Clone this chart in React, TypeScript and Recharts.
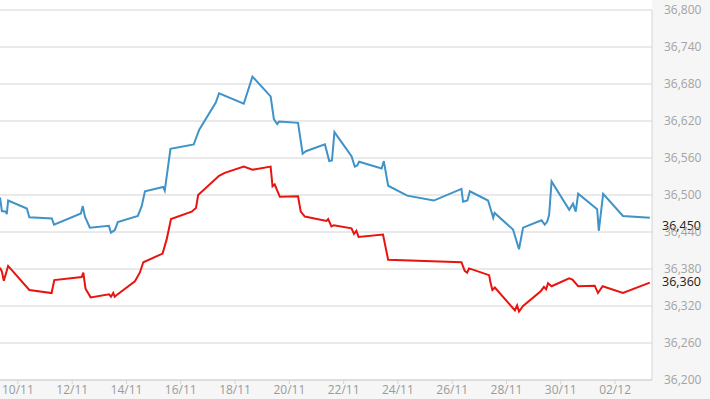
import React from 'react';
import { LineChart, Line, XAxis, YAxis, CartesianGrid, ReferenceLine } from 'recharts';

// t = day of month counted from 1 Nov (32 = 02/12), v = price
const blueT = [9.34, 9.41, 9.56, 9.59, 9.64, 10.33, 10.42, 11.25, 11.33, 12.32, 12.39, 12.47, 12.65, 13.35, 13.43, 13.57, 13.68, 14.42, 14.56, 14.68, 15.35, 15.41, 15.62, 16.48, 16.56, 16.68, 17.29, 17.41, 18.32, 18.64, 19.31, 19.43, 19.55, 19.62, 20.32, 20.49, 20.61, 21.31, 21.47, 21.57, 21.66, 22.29, 22.41, 22.5, 22.57, 23.4, 23.48, 23.64, 24.34, 25.32, 26.34, 26.4, 26.56, 26.65, 27.32, 27.45, 27.51, 27.56, 28.24, 28.46, 28.61, 29.29, 29.41, 29.5, 29.57, 29.66, 30.31, 30.45, 30.55, 30.64, 31.34, 31.4, 31.56, 32.29, 33.28];
const blueV = [36496, 36474, 36473, 36469, 36491, 36478, 36464, 36462, 36452, 36470, 36482, 36465, 36447, 36450, 36439, 36443, 36456, 36466, 36482, 36506, 36513, 36507, 36575, 36582, 36592, 36606, 36650, 36665, 36648, 36692, 36660, 36623, 36615, 36619, 36617, 36567, 36571, 36582, 36555, 36556, 36602, 36563, 36546, 36548, 36554, 36543, 36555, 36515, 36499, 36491, 36510, 36489, 36491, 36506, 36491, 36472, 36463, 36471, 36444, 36412, 36447, 36459, 36452, 36457, 36468, 36522, 36476, 36486, 36473, 36502, 36477, 36442, 36502, 36466, 36463];

const redT = [9.34, 9.41, 9.48, 9.64, 10.42, 11.24, 11.34, 12.35, 12.41, 12.49, 12.68, 13.36, 13.43, 13.51, 13.57, 13.64, 14.31, 14.49, 14.62, 15.33, 15.48, 15.64, 16.4, 16.56, 16.64, 17.41, 17.62, 18.32, 18.64, 19.31, 19.38, 19.46, 19.65, 20.32, 20.42, 20.57, 21.37, 21.43, 21.55, 21.64, 22.29, 22.38, 22.47, 22.55, 23.45, 23.64, 26.34, 26.46, 26.55, 26.62, 27.36, 27.41, 27.48, 27.57, 28.31, 28.39, 28.46, 28.61, 29.26, 29.38, 29.46, 29.53, 29.66, 30.31, 30.43, 30.64, 31.25, 31.37, 31.54, 32.29, 33.28];
const redV = [36382, 36376, 36361, 36385, 36346, 36341, 36362, 36367, 36374, 36348, 36334, 36339, 36335, 36341, 36335, 36338, 36360, 36374, 36391, 36405, 36428, 36461, 36473, 36479, 36500, 36531, 36536, 36546, 36541, 36546, 36514, 36517, 36497, 36498, 36473, 36465, 36458, 36461, 36449, 36451, 36446, 36437, 36442, 36432, 36436, 36395, 36391, 36377, 36374, 36381, 36370, 36358, 36346, 36350, 36313, 36321, 36311, 36320, 36344, 36351, 36347, 36357, 36352, 36365, 36363, 36352, 36353, 36341, 36352, 36341, 36358];

const xTicks = [10, 12, 14, 16, 18, 20, 22, 24, 26, 28, 30, 32];
const yTicks = [36200, 36260, 36320, 36380, 36440, 36500, 36560, 36620, 36680, 36740, 36800];
const lastLabels = [
  { value: 36450, text: '36,450' },
  { value: 36360, text: '36,360' },
];

const blue = blueT.map((t, i) => ({ t, v: blueV[i] }));
const red = redT.map((t, i) => ({ t, v: redV[i] }));

const FONT = '"Open Sans", Arial, sans-serif';

const fmtDate = (d: number) => (d > 30 ? `0${d - 30}/12` : `${d}/11`);
const fmtNum = (v: number) => v.toLocaleString('en-US');

const LastLabel = ({ viewBox, text }: any) => (
  <text
    x={viewBox.x + viewBox.width + 10}
    y={viewBox.y}
    dy="0.35em"
    fill="#1a1a1a"
    fontSize={12.5}
    fontFamily={FONT}
  >
    {text}
  </text>
);

export default function App() {
  return (
    <div style={{ position: 'relative', width: 710, height: 399, background: '#f6f6f6' }}>
      <style>{'body{margin:0}'}</style>
      <div style={{ position: 'absolute', left: 0, top: 0, width: 652, height: 380, background: '#fff' }} />
      <div style={{ position: 'absolute', left: 0, top: 0 }}>
        <LineChart width={710} height={399} margin={{ top: 10, right: 0, bottom: 0, left: 0 }}>
          <CartesianGrid vertical={false} stroke="#d4d4d4" />
          <XAxis
            type="number"
            dataKey="t"
            domain={[9.34, 33.36]}
            ticks={xTicks}
            tickFormatter={fmtDate}
            allowDataOverflow
            height={19}
            axisLine={{ stroke: '#d4d4d4' }}
            tickLine={{ stroke: '#d4d4d4' }}
            tickSize={4}
            tickMargin={1}
            tick={{ fill: '#9a9a9a', fontSize: 12, fontFamily: FONT }}
          />
          <YAxis
            orientation="right"
            domain={[36200, 36800]}
            ticks={yTicks}
            tickFormatter={fmtNum}
            width={58}
            axisLine={{ stroke: '#d4d4d4' }}
            tickLine={false}
            tickSize={0}
            tickMargin={12}
            tick={{ fill: '#a3a3a3', fontSize: 12, fontFamily: FONT }}
          />
          {lastLabels.map((l) => (
            <ReferenceLine
              key={l.text}
              y={l.value}
              stroke="none"
              label={<LastLabel text={l.text} />}
            />
          ))}
          <Line
            data={blue}
            dataKey="v"
            stroke="#3f93c8"
            strokeWidth={2}
            dot={false}
            activeDot={false}
            isAnimationActive={false}
          />
          <Line
            data={red}
            dataKey="v"
            stroke="#e8140f"
            strokeWidth={2}
            dot={false}
            activeDot={false}
            isAnimationActive={false}
          />
        </LineChart>
      </div>
    </div>
  );
}
